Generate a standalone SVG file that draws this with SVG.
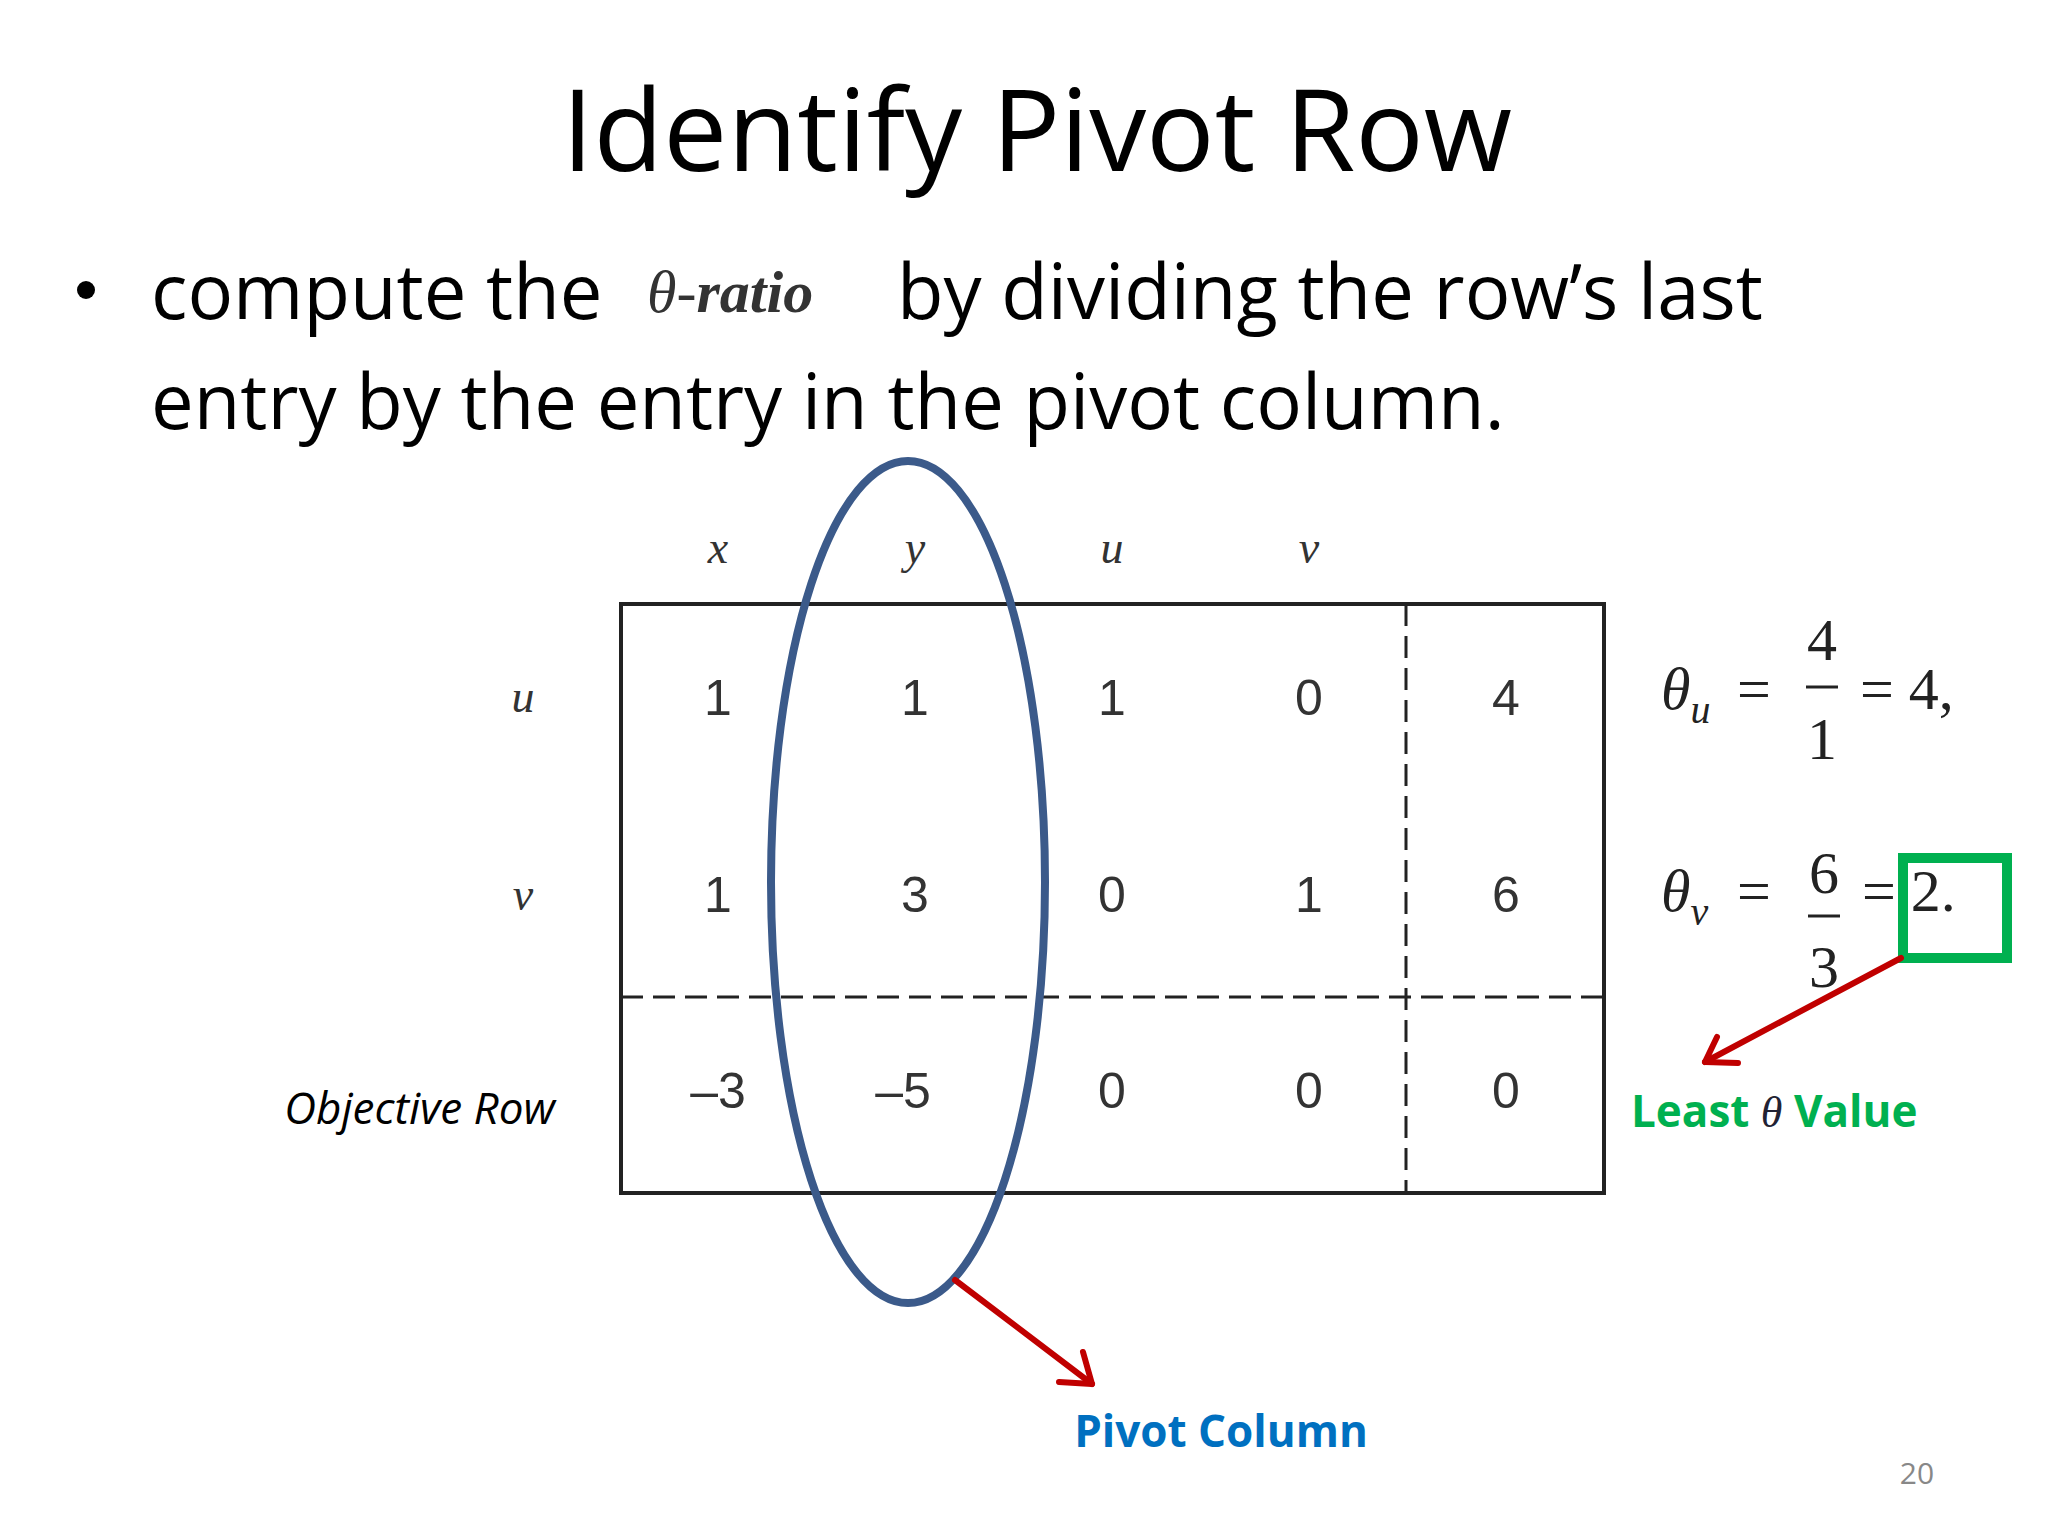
<svg xmlns="http://www.w3.org/2000/svg" width="2048" height="1536" viewBox="0 0 2048 1536">
<style>
.t{font-family:"Open Sans","Liberation Sans",sans-serif;fill:#000}
.num{font-family:"Liberation Sans",Arial,sans-serif;font-size:50px;fill:#333;text-anchor:middle}
.var{font-family:"Liberation Serif","DejaVu Serif",serif;font-style:italic;font-size:46px;fill:#333;text-anchor:middle}
.m{font-family:"Liberation Serif","DejaVu Serif",serif;font-size:60px;fill:#222}
.mi{font-family:"Liberation Serif","DejaVu Serif",serif;font-style:italic;font-size:60px;fill:#222}
.lbl{font-family:"Open Sans","Liberation Sans",sans-serif;font-weight:bold;font-size:44px}
</style>
<defs>
<marker id="ah" markerWidth="10" markerHeight="10" refX="8" refY="5" orient="auto" markerUnits="userSpaceOnUse" viewBox="0 0 10 10">
</marker>
</defs>
<rect width="2048" height="1536" fill="#fff"/>
<g id="title"><text class="t" x="1037" y="171" font-size="114" text-anchor="middle">Identify Pivot Row</text></g>
<g id="bullet">
<circle cx="86" cy="290" r="9" fill="#000"/>
<text class="t" x="151" y="319" font-size="76">compute the</text>
<text x="647" y="312" font-family="Liberation Serif,serif" font-style="italic" font-size="60" fill="#333"><tspan>θ-</tspan><tspan font-weight="bold">ratio</tspan></text>
<text class="t" x="897" y="319" font-size="76">by dividing the row’s last</text>
<text class="t" x="151" y="429" font-size="76">entry by the entry in the pivot column.</text>
</g>
<g id="table">
<rect x="621" y="604" width="983" height="589" fill="none" stroke="#222" stroke-width="4"/>
<line x1="1406" y1="604" x2="1406" y2="1193" stroke="#222" stroke-width="3" stroke-dasharray="22,10"/>
<line x1="621" y1="997" x2="1604" y2="997" stroke="#222" stroke-width="3" stroke-dasharray="22,10"/>
<text class="var" x="718" y="563">x</text><text class="var" x="915" y="563">y</text><text class="var" x="1112" y="563">u</text><text class="var" x="1309" y="563">v</text>
<text class="var" x="523" y="712">u</text><text class="var" x="523" y="910">v</text>
<text x="555" y="1124" font-family="Open Sans,Liberation Sans,sans-serif" font-style="italic" font-size="44" text-anchor="end">Objective Row</text>
<text class="num" x="718" y="715">1</text><text class="num" x="915" y="715">1</text><text class="num" x="1112" y="715">1</text><text class="num" x="1309" y="715">0</text><text class="num" x="1506" y="715">4</text>
<text class="num" x="718" y="912">1</text><text class="num" x="915" y="912">3</text><text class="num" x="1112" y="912">0</text><text class="num" x="1309" y="912">1</text><text class="num" x="1506" y="912">6</text>
<text class="num" x="718" y="1108">–3</text><text class="num" x="903" y="1108">–5</text><text class="num" x="1112" y="1108">0</text><text class="num" x="1309" y="1108">0</text><text class="num" x="1506" y="1108">0</text>
</g>
<g id="pivot-column">
<ellipse cx="908" cy="882" rx="137" ry="421" fill="none" stroke="#3b5a8a" stroke-width="8"/>
<text class="lbl" x="1221" y="1447" text-anchor="middle" fill="#0070c0">Pivot Column</text>
</g>
<g id="ratios">
<text class="mi" x="1661" y="709">θ<tspan font-size="40" dy="14">u</tspan></text>
<text class="m" x="1737" y="709">=</text>
<text class="m" x="1822" y="660" text-anchor="middle">4</text>
<line x1="1806" y1="687" x2="1838" y2="687" stroke="#222" stroke-width="3"/>
<text class="m" x="1822" y="759" text-anchor="middle">1</text>
<text class="m" x="1860" y="709">= 4,</text>
<text class="mi" x="1661" y="911">θ<tspan font-size="40" dy="14">v</tspan></text>
<text class="m" x="1737" y="911">=</text>
<text class="m" x="1824" y="893" text-anchor="middle">6</text>
<line x1="1808" y1="916" x2="1840" y2="916" stroke="#222" stroke-width="3"/>
<text class="m" x="1824" y="987" text-anchor="middle">3</text>
<text class="m" x="1862" y="911">= 2.</text>
<rect x="1903" y="858" width="104" height="100" fill="none" stroke="#00b050" stroke-width="10"/>
<text class="lbl" x="1631" y="1127" fill="#00b050">Least <tspan font-family="Liberation Serif,serif" font-style="italic" font-weight="normal" fill="#223">θ</tspan> Value</text>
</g>
<g id="connectors" stroke="#c00000" stroke-width="6" fill="none" stroke-linecap="round" stroke-linejoin="round">
<line x1="955" y1="1280" x2="1092" y2="1384"/>
<polyline points="1059,1382 1092,1384 1083,1352"/>
<line x1="1901" y1="958" x2="1705" y2="1062"/>
<polyline points="1717,1037 1705,1062 1738,1063"/>
</g>
<text x="1917" y="1484" font-family="Open Sans,Liberation Sans,sans-serif" font-size="30" fill="#888" text-anchor="middle">20</text>
</svg>
